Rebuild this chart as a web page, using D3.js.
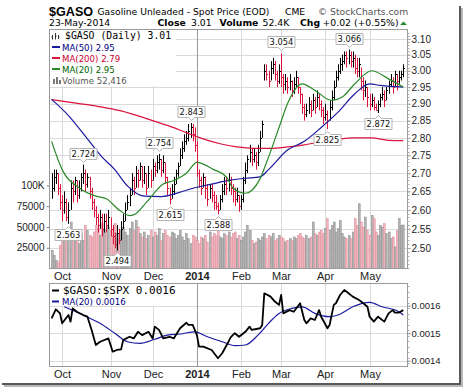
<!DOCTYPE html>
<html>
<head>
<meta charset="utf-8">
<script src="https://cdn.jsdelivr.net/npm/d3@7"></script>
<style>
  body { margin: 0; background: #fff; }
  svg { display: block; }
</style>
</head>
<body>
<div id="chart"></div>
<script>
// $GASO daily bars, 24-Sep-2013 .. 23-May-2014 (168 sessions)
const closes = [
  2.66, 2.69, 2.70, 2.66, 2.62, 2.60, 2.62, 2.58, 2.60, 2.66,
  2.65, 2.68, 2.64, 2.66, 2.69, 2.70, 2.67, 2.69, 2.65, 2.62,
  2.60, 2.58, 2.56, 2.58, 2.55, 2.57, 2.56, 2.58, 2.55, 2.53,
  2.51, 2.54, 2.52, 2.55, 2.57, 2.60, 2.62, 2.64, 2.68, 2.66,
  2.70, 2.68, 2.72, 2.68, 2.70, 2.66, 2.70, 2.68, 2.72, 2.71,
  2.73, 2.74, 2.71, 2.73, 2.69, 2.66, 2.63, 2.65, 2.67, 2.70,
  2.72, 2.75, 2.77, 2.79, 2.80, 2.82, 2.83, 2.81, 2.78, 2.70,
  2.68, 2.66, 2.69, 2.66, 2.63, 2.66, 2.64, 2.62, 2.61, 2.60,
  2.63, 2.65, 2.67, 2.66, 2.68, 2.66, 2.65, 2.63, 2.64, 2.61,
  2.63, 2.68, 2.71, 2.74, 2.76, 2.74, 2.75, 2.73, 2.76, 2.80,
  2.84, 3.00, 2.99, 2.97, 3.01, 3.02, 2.99, 2.97, 3.00, 2.98,
  2.96, 2.97, 2.95, 2.97, 2.94, 2.96, 2.98, 2.95, 2.93, 2.89,
  2.87, 2.88, 2.90, 2.88, 2.91, 2.89, 2.92, 2.90, 2.88, 2.86,
  2.87, 2.85, 2.89, 2.92, 2.95, 2.98, 3.00, 3.02, 3.03, 3.05,
  3.04, 3.05, 3.03, 3.04, 3.01, 3.00, 3.02, 2.97, 2.94, 2.95,
  2.92, 2.90, 2.91, 2.89, 2.88, 2.90, 2.92, 2.93, 2.91, 2.94,
  2.96, 2.97, 2.95, 2.99, 2.97, 2.98, 2.99, 3.01
];
const highs = [
  2.70, 2.71, 2.71, 2.70, 2.67, 2.64, 2.65, 2.63, 2.62, 2.68,
  2.68, 2.69, 2.68, 2.68, 2.70, 2.724, 2.71, 2.70, 2.69, 2.66,
  2.63, 2.61, 2.59, 2.60, 2.59, 2.59, 2.59, 2.60, 2.58, 2.56,
  2.54, 2.56, 2.55, 2.57, 2.59, 2.62, 2.64, 2.66, 2.70, 2.69,
  2.72, 2.71, 2.73, 2.72, 2.72, 2.70, 2.72, 2.71, 2.74, 2.73,
  2.75, 2.754, 2.74, 2.75, 2.73, 2.69, 2.66, 2.67, 2.69, 2.71,
  2.73, 2.77, 2.79, 2.81, 2.82, 2.84, 2.843, 2.84, 2.83, 2.79,
  2.71, 2.69, 2.70, 2.69, 2.67, 2.67, 2.67, 2.65, 2.64, 2.62,
  2.64, 2.67, 2.69, 2.69, 2.70, 2.69, 2.67, 2.66, 2.66, 2.64,
  2.64, 2.69, 2.73, 2.75, 2.78, 2.77, 2.77, 2.76, 2.78, 2.82,
  2.85, 3.02, 3.02, 3.00, 3.03, 3.04, 3.03, 3.00, 3.02, 3.054,
  2.99, 2.99, 2.98, 2.99, 2.97, 2.98, 3.00, 2.98, 2.95, 2.93,
  2.90, 2.90, 2.92, 2.91, 2.93, 2.92, 2.94, 2.93, 2.91, 2.89,
  2.90, 2.88, 2.91, 2.94, 2.97, 3.00, 3.02, 3.04, 3.05, 3.06,
  3.06, 3.066, 3.06, 3.06, 3.05, 3.04, 3.04, 3.01, 2.98, 2.97,
  2.95, 2.93, 2.93, 2.92, 2.90, 2.91, 2.93, 2.95, 2.94, 2.95,
  2.97, 2.99, 2.98, 3.00, 2.99, 3.00, 3.00, 3.02
];
const lows = [
  2.63, 2.65, 2.67, 2.64, 2.60, 2.57, 2.59, 2.57, 2.563, 2.60,
  2.62, 2.64, 2.62, 2.63, 2.65, 2.67, 2.65, 2.66, 2.63, 2.60,
  2.58, 2.56, 2.54, 2.55, 2.53, 2.54, 2.54, 2.55, 2.53, 2.51,
  2.50, 2.494, 2.51, 2.52, 2.55, 2.57, 2.60, 2.61, 2.64, 2.64,
  2.66, 2.66, 2.68, 2.66, 2.67, 2.64, 2.66, 2.66, 2.68, 2.69,
  2.70, 2.71, 2.69, 2.70, 2.67, 2.64, 2.615, 2.63, 2.64, 2.67,
  2.69, 2.72, 2.74, 2.76, 2.78, 2.79, 2.80, 2.79, 2.76, 2.69,
  2.66, 2.64, 2.66, 2.63, 2.61, 2.63, 2.62, 2.60, 2.60, 2.588,
  2.60, 2.62, 2.64, 2.64, 2.65, 2.64, 2.62, 2.61, 2.62, 2.595,
  2.60, 2.62, 2.67, 2.70, 2.73, 2.72, 2.73, 2.71, 2.72, 2.76,
  2.80, 2.97, 2.97, 2.95, 2.97, 2.99, 2.97, 2.95, 2.96, 2.95,
  2.93, 2.94, 2.93, 2.94, 2.92, 2.93, 2.95, 2.93, 2.90, 2.87,
  2.85, 2.86, 2.87, 2.86, 2.88, 2.87, 2.89, 2.88, 2.86, 2.84,
  2.85, 2.825, 2.85, 2.88, 2.91, 2.95, 2.97, 2.99, 3.00, 3.02,
  3.01, 3.02, 3.01, 3.01, 2.99, 2.98, 2.98, 2.94, 2.91, 2.92,
  2.89, 2.88, 2.89, 2.88, 2.88, 2.872, 2.89, 2.91, 2.89, 2.91,
  2.93, 2.95, 2.93, 2.95, 2.94, 2.96, 2.97, 2.98
];
// volume in thousands
const volK = [
  22, 16, 10, 8, 28, 40, 46,
  44, 40, 56, 38, 46, 36, 30, 42,
  34, 52, 46, 40, 38, 44, 52,
  48, 40, 54, 46, 42, 50,
  46, 40, 54, 42, 36, 46,
  50, 44, 40, 48, 56, 46, 58,
  50, 42, 38, 44, 36, 40, 46,
  38, 44, 40, 48, 34, 42, 46,
  40, 38, 44, 42, 36, 40, 46,
  38, 34, 42, 36, 30, 40, 38,
  34, 30, 38, 36, 40, 32, 44,
  38, 42, 40, 46, 38, 36, 42,
  40, 44, 38, 42, 44, 36, 40,
  34, 38, 44, 52, 46, 34, 30,
  32, 36, 34, 38, 42, 36, 40,
  38, 42, 34, 36, 40, 38, 36,
  32, 34, 36, 34, 38, 36, 40,
  42, 38, 36, 40, 36, 38, 56,
  42, 40, 44, 46, 42, 48, 60,
  46, 52, 56, 44, 48, 58, 42,
  38, 36, 40, 36, 44, 60, 52,
  78, 56, 50, 62, 46, 40, 64,
  60, 44, 40, 52, 50, 54, 42,
  44, 36, 38, 26, 46, 60, 52, 52.4
];

// moving averages, read at sample sessions
const ma200Idx = [0, 8, 16, 24, 32, 40, 48, 56, 64, 72, 80, 88, 96, 104, 112, 120, 128, 136, 144, 152, 160, 167];
const ma200Val = [2.912, 2.905, 2.898, 2.890, 2.880, 2.866, 2.850, 2.834, 2.815, 2.797, 2.783, 2.774, 2.770, 2.770, 2.774, 2.780, 2.788, 2.796, 2.800, 2.800, 2.793, 2.792];
const ma50Idx = [0, 8, 16, 24, 30, 36, 44, 52, 60, 68, 76, 84, 92, 99, 103, 112, 120, 128, 136, 144, 151, 156, 167];
const ma50Val = [2.913, 2.865, 2.805, 2.745, 2.71, 2.665, 2.637, 2.636, 2.646, 2.66, 2.67, 2.68, 2.686, 2.69, 2.71, 2.765, 2.79, 2.83, 2.875, 2.93, 2.96, 2.955, 2.95];
const ma20Idx = [0, 5, 13, 21, 26, 32, 37, 40, 45, 53, 58, 64, 69, 77, 83, 86, 92, 99, 103, 108, 112, 119, 125, 133, 138, 144, 152, 160, 167];
const ma20Val = [2.79, 2.71, 2.66, 2.637, 2.63, 2.60, 2.585, 2.59, 2.62, 2.67, 2.68, 2.70, 2.73, 2.71, 2.69, 2.66, 2.645, 2.685, 2.745, 2.83, 2.90, 2.96, 2.94, 2.91, 2.92, 2.96, 3.00, 2.975, 2.95];

// $GASO:$SPX ratio and its MA(20)
const ratioIdx = [0, 2, 4, 5, 8, 9, 10, 12, 15, 17, 19, 21, 23, 27, 29, 31, 33, 34, 37, 39, 41, 43, 46, 48, 49, 51, 53, 56, 58, 61,
  64, 65, 67, 69, 70, 72, 76, 79, 81, 84, 85, 87, 89, 92, 94, 95, 99, 100, 101, 104, 106, 108, 109, 110, 113, 115, 118, 120, 121, 123,
  125, 127, 128, 131, 132, 134, 135, 137, 139, 141, 143, 146, 148, 150, 151, 153, 155, 158, 160, 162, 163, 165, 167];
const ratioVal = [0.001554, 0.001587, 0.001572, 0.001536, 0.001566, 0.001542, 0.00159, 0.001578, 0.001566, 0.00156,
  0.001512, 0.001457, 0.001469, 0.001481, 0.001433, 0.001439, 0.001441, 0.001475, 0.001487, 0.001481,
  0.001505, 0.001493, 0.001505, 0.001481, 0.001524, 0.001512, 0.001481, 0.001487, 0.001481, 0.001518,
  0.001538, 0.00153, 0.00153, 0.001493, 0.001451, 0.001451, 0.001439, 0.001409, 0.001427, 0.001469,
  0.001485, 0.0015, 0.001487, 0.001505, 0.001524, 0.001512, 0.001518, 0.00153, 0.001645, 0.001633,
  0.001615, 0.001603, 0.001639, 0.001572, 0.001584, 0.001578, 0.001609, 0.001548, 0.001536, 0.001554,
  0.001548, 0.001584, 0.00156, 0.001518, 0.00153, 0.001603, 0.001609, 0.001639, 0.001657, 0.001645,
  0.001633, 0.001621, 0.001609, 0.001596, 0.00156, 0.001542, 0.00156, 0.001542, 0.001572, 0.001584,
  0.001575, 0.001575, 0.001584];
const rmaIdx = [6, 15, 23, 30, 36, 42, 49, 55, 61, 68, 74, 81, 87, 92, 98, 103, 108, 114, 119, 125, 132, 136, 143, 151, 157, 165, 167];
const rmaVal = [0.001596, 0.001566, 0.001536, 0.0015, 0.001469, 0.001463, 0.001478, 0.001493, 0.001497, 0.001505, 0.001487, 0.001469, 0.001455, 0.001457,
  0.001493, 0.001536, 0.001572, 0.00159, 0.001596, 0.001572, 0.00156, 0.001566, 0.001596, 0.001612, 0.001596, 0.001578, 0.001566];

// labelled highs / lows
const tagIdx = [8, 15, 31, 51, 56, 66, 79, 109, 131, 141, 155];
const tagText = ["2.563", "2.724", "2.494", "2.754", "2.615", "2.843", "2.588", "3.054", "2.825", "3.066", "2.872"];
const tagHigh = [false, true, false, true, false, true, false, true, false, true, false];

// axes
const monthIdx = [5, 28, 48, 69, 90, 109, 130, 151];
const monthLab = ["Oct", "Nov", "Dec", "2014", "Feb", "Mar", "Apr", "May"];
const priceTicks = [2.50, 2.55, 2.60, 2.65, 2.70, 2.75, 2.80, 2.85, 2.90, 2.95, 3.00, 3.05, 3.10];
const volTicks = [25, 50, 75, 100];
const ratioTicks = [0.0014, 0.0015, 0.0016];

const UP = "#000", DOWN = "#dc143c";
const NAVY = "#1a1aa0", RED = "#dc143c", GREEN = "#2a8a2a";
const AXF = "'Liberation Sans', Arial, sans-serif";
const MONO = "'DejaVu Sans Mono', monospace";

const pL = 49.5, pR = 407.5, pTop = 29.5, pBot = 268.5;
const lTop = 283.5, lBot = 366.5;

const svg = d3.select("#chart").append("svg")
  .attr("width", 464).attr("height", 387)
  .style("font-family", "'DejaVu Sans', Verdana, sans-serif");

svg.append("rect").attr("width", 464).attr("height", 387).attr("fill", "#fff");

if (closes.length !== 168 || highs.length !== 168 || lows.length !== 168 || volK.length !== 168 ||
    ratioIdx.length !== ratioVal.length || rmaIdx.length !== rmaVal.length) {
  svg.append("text").attr("x", 100).attr("y", 200).attr("fill", "red")
    .text(`len ${closes.length} ${highs.length} ${lows.length} ${volK.length} ${ratioIdx.length}/${ratioVal.length}`);
}

// frame shadow
svg.append("rect").attr("x", 459).attr("y", 6).attr("width", 2).attr("height", 379).attr("fill", "#5a5a5a");
svg.append("rect").attr("x", 461).attr("y", 8).attr("width", 2).attr("height", 378).attr("fill", "#b8b8b8");
svg.append("rect").attr("x", 2).attr("y", 383).attr("width", 459).attr("height", 2).attr("fill", "#5a5a5a");
svg.append("rect").attr("x", 4).attr("y", 385).attr("width", 459).attr("height", 2).attr("fill", "#b8b8b8");

const x = d3.scaleLinear().domain([-1, 169]).range([pL, pR]);
const y = d3.scaleLog().domain([2.448, 3.130]).range([pBot, pTop]);
const yv = d3.scaleLinear().domain([0, 100]).range([pBot, 185.5]);
const yr = d3.scaleLinear().domain([0.0014, 0.0016]).range([360.7, 305.7]);
const px = i => Math.round(x(i)) + 0.5;
const isUp = i => i === 0 || closes[i] >= closes[i - 1];

// ---- header
const head = svg.append("g");
head.append("text").attr("x", 49).attr("y", 15.5)
  .attr("font-family", AXF).attr("font-weight", "bold").attr("font-size", 12.6).text("$GASO");
head.append("text").attr("x", 97.5).attr("y", 14.5).attr("font-size", 9.2)
  .text("Gasoline Unleaded - Spot Price (EOD)");
head.append("text").attr("x", 285).attr("y", 14.5).attr("font-size", 9.2).text("CME");
head.append("text").attr("x", 318).attr("y", 14.5).attr("font-size", 9.2).attr("fill", "#555")
  .text("\u00a9 StockCharts.com");
const l2 = head.append("text").attr("y", 26).attr("font-size", 9.3);
l2.append("tspan").attr("x", 49).text("23-May-2014");
l2.append("tspan").attr("x", 157.5).attr("font-weight", "bold").text("Close");
l2.append("tspan").attr("x", 191).text("3.01");
l2.append("tspan").attr("x", 219.5).attr("font-weight", "bold").text("Volume");
l2.append("tspan").attr("x", 262.5).text("52.4K");
l2.append("tspan").attr("x", 300).attr("font-weight", "bold").text("Chg");
l2.append("tspan").attr("x", 322.5).text("+0.02 (+0.55%)");
head.append("path").attr("d", "M400,25 L403.5,21.5 L407,25 Z").attr("fill", "#2a8a2a");

// ---- main panel
const main = svg.append("g");
svg.append("clipPath").attr("id", "clipMain")
  .append("rect").attr("x", pL).attr("y", pTop).attr("width", pR - pL).attr("height", pBot - pTop);

main.selectAll("line.hg").data(priceTicks).join("line").attr("class", "hg")
  .attr("x1", pL).attr("x2", pR)
  .attr("y1", d => Math.round(y(d)) + 0.5).attr("y2", d => Math.round(y(d)) + 0.5)
  .attr("stroke", "#dadada");
main.selectAll("line.vg").data(monthIdx).join("line").attr("class", "vg")
  .attr("x1", d => px(d)).attr("x2", d => px(d))
  .attr("y1", pTop).attr("y2", pBot)
  .attr("stroke", (d, i) => monthLab[i] === "2014" ? "#9a9a9a" : "#dadada");

// volume
main.append("g").selectAll("rect").data(volK).join("rect")
  .attr("x", (d, i) => px(i) - 1.2).attr("width", 1.9)
  .attr("y", d => yv(d)).attr("height", d => pBot - yv(d))
  .attr("fill", (d, i) => isUp(i) ? "#b4b4b4" : "#f2b6be")
  .attr("stroke", (d, i) => isUp(i) ? "#8a8a8a" : "#d98a98")
  .attr("stroke-width", 0.5);

// price bars
const bars = main.append("g").attr("clip-path", "url(#clipMain)");
bars.selectAll("line.hl").data(closes).join("line").attr("class", "hl")
  .attr("x1", (d, i) => px(i)).attr("x2", (d, i) => px(i))
  .attr("y1", (d, i) => y(highs[i])).attr("y2", (d, i) => y(lows[i]))
  .attr("stroke", (d, i) => isUp(i) ? UP : DOWN);
bars.selectAll("line.cl").data(closes).join("line").attr("class", "cl")
  .attr("x1", (d, i) => px(i)).attr("x2", (d, i) => px(i) + 1.5)
  .attr("y1", d => Math.round(y(d)) + 0.5).attr("y2", d => Math.round(y(d)) + 0.5)
  .attr("stroke", (d, i) => isUp(i) ? UP : DOWN);

// moving averages
const maLine = d3.line().x(d => x(d[0])).y(d => y(d[1])).curve(d3.curveMonotoneX);
const maSets = [[ma200Idx, ma200Val, RED], [ma50Idx, ma50Val, NAVY], [ma20Idx, ma20Val, GREEN]];
maSets.forEach(([idx, val, col]) => {
  bars.append("path").datum(idx.map((d, k) => [d, val[k]]))
    .attr("d", maLine).attr("fill", "none").attr("stroke", col).attr("stroke-width", 1.2);
});

// high / low tags
const tags = main.append("g");
tagIdx.forEach((ti, k) => {
  const cx = px(ti), w = 27, h = 11;
  const v = tagHigh[k] ? highs[ti] : lows[ti];
  const left = cx - w / 2, right = cx + w / 2;
  let d, ty;
  if (tagHigh[k]) {
    const bot = Math.round(y(v)) - 5.5, top = bot - h;
    d = `M${left},${top}H${right}V${bot}H${cx + 3}L${cx},${bot + 3}L${cx - 3},${bot}H${left}Z`;
    ty = bot - 2.5;
  } else {
    const top = Math.round(y(v)) + 5.5, bot = top + h;
    d = `M${left},${top}H${cx - 3}L${cx},${top - 3}L${cx + 3},${top}H${right}V${bot}H${left}Z`;
    ty = bot - 2.5;
  }
  tags.append("path").attr("d", d).attr("fill", "#fff").attr("stroke", "#b4b4b4");
  tags.append("text").attr("x", cx).attr("y", ty).attr("text-anchor", "middle")
    .attr("font-size", 8.3).attr("fill", "#111").text(tagText[k]);
});

// legend
main.append("rect").attr("x", pL + 0.5).attr("y", pTop + 0.5).attr("width", 126).attr("height", 56).attr("fill", "#fff");
const leg = main.append("g");
leg.append("path").attr("d", "M52.5,35V39.5M55.5,33V39.5M58.5,35V39M51.5,37H52.5M55.5,36H56.5M58.5,37H59.5")
  .attr("stroke", "#333").attr("fill", "none");
leg.append("text").attr("x", 65).attr("y", 39).attr("font-family", MONO).attr("font-size", 9.8).text("$GASO (Daily) 3.01");
const legRows = [["MA(50) 2.95", NAVY, "#000080", 50.5], ["MA(200) 2.79", RED, "#cc0033", 61.5], ["MA(20) 2.95", GREEN, "#006400", 72.5]];
legRows.forEach(([t, lc, tc, by]) => {
  leg.append("rect").attr("x", 52).attr("y", by - 4.5).attr("width", 8).attr("height", 2).attr("fill", lc);
  leg.append("text").attr("x", 62).attr("y", by).attr("font-size", 8.6).attr("fill", tc).text(t);
});
leg.append("path").attr("d", "M53,84V79H55V84M56,84V77H58V84M59,84V80H61V84").attr("fill", "#777");
leg.append("text").attr("x", 62).attr("y", 83.5).attr("font-size", 8.6).attr("fill", "#555").text("Volume 52,416");

main.append("rect").attr("x", pL).attr("y", pTop).attr("width", pR - pL).attr("height", pBot - pTop)
  .attr("fill", "none").attr("stroke", "#9a9a9a");

// right price axis
const axR = svg.append("g").attr("transform", `translate(${pR},0)`)
  .call(d3.axisRight(y).tickValues(priceTicks).tickSize(3).tickPadding(1).tickFormat(d3.format(".2f")));
axR.select(".domain").remove();
axR.attr("font-family", AXF).attr("font-size", 10);
axR.selectAll("text").attr("fill", "#222");
axR.selectAll("line").attr("stroke", "#888");
svg.append("g").selectAll("line").data(d3.range(2.45, 3.125, 0.01)).join("line")
  .attr("x1", pR).attr("x2", pR + 2)
  .attr("y1", d => Math.round(y(d)) + 0.5).attr("y2", d => Math.round(y(d)) + 0.5)
  .attr("stroke", "#b0b0b0");

// left volume axis
const axV = svg.append("g").attr("transform", `translate(${pL},0)`)
  .call(d3.axisLeft(yv).tickValues(volTicks).tickSize(3).tickPadding(2)
    .tickFormat(d => d === 100 ? "100K" : String(d * 1000)));
axV.select(".domain").remove();
axV.attr("font-family", AXF).attr("font-size", 10);
axV.selectAll("text").attr("fill", "#222");
axV.selectAll("line").attr("stroke", "#888");

// month labels
[279.5, 378].forEach(by => {
  svg.append("g").selectAll("text").data(monthIdx).join("text")
    .attr("x", d => px(d)).attr("y", by).attr("text-anchor", "middle")
    .attr("font-family", AXF).attr("font-size", 11)
    .attr("font-weight", (d, i) => monthLab[i] === "2014" ? "bold" : "normal")
    .attr("fill", "#222").text((d, i) => monthLab[i]);
});

// ---- lower panel
const low = svg.append("g");
svg.append("clipPath").attr("id", "clipLow")
  .append("rect").attr("x", pL).attr("y", lTop).attr("width", pR - pL).attr("height", lBot - lTop);
low.selectAll("line.hg").data(ratioTicks).join("line").attr("class", "hg")
  .attr("x1", pL).attr("x2", pR)
  .attr("y1", d => Math.round(yr(d)) + 0.5).attr("y2", d => Math.round(yr(d)) + 0.5)
  .attr("stroke", "#dadada");
low.selectAll("line.vg").data(monthIdx).join("line").attr("class", "vg")
  .attr("x1", d => px(d)).attr("x2", d => px(d))
  .attr("y1", lTop).attr("y2", lBot)
  .attr("stroke", (d, i) => monthLab[i] === "2014" ? "#9a9a9a" : "#dadada");

const rLine = d3.line().x(d => x(d[0])).y(d => yr(d[1]));
const lowLines = low.append("g").attr("clip-path", "url(#clipLow)");
lowLines.append("path").datum(rmaIdx.map((d, k) => [d, rmaVal[k]]))
  .attr("d", rLine.curve(d3.curveMonotoneX)).attr("fill", "none").attr("stroke", NAVY).attr("stroke-width", 1.2);
lowLines.append("path").datum(ratioIdx.map((d, k) => [d, ratioVal[k]]))
  .attr("d", d3.line().x(d => x(d[0])).y(d => yr(d[1]))).attr("fill", "none")
  .attr("stroke", "#000").attr("stroke-width", 1.8).attr("stroke-linejoin", "round");

low.append("rect").attr("x", pL + 0.5).attr("y", lTop + 0.5).attr("width", 130).attr("height", 22).attr("fill", "#fff");
low.append("rect").attr("x", 52).attr("y", 289.5).attr("width", 7).attr("height", 2).attr("fill", "#000");
low.append("text").attr("x", 63).attr("y", 294).attr("font-family", MONO).attr("font-size", 11).text("$GASO:$SPX 0.0016");
low.append("rect").attr("x", 52).attr("y", 300.5).attr("width", 7).attr("height", 2).attr("fill", NAVY);
low.append("text").attr("x", 62).attr("y", 305).attr("font-size", 8.6).attr("fill", "#000080").text("MA(20) 0.0016");

low.append("rect").attr("x", pL).attr("y", lTop).attr("width", pR - pL).attr("height", lBot - lTop)
  .attr("fill", "none").attr("stroke", "#9a9a9a");

const axL = svg.append("g").attr("transform", `translate(${pR},0)`)
  .call(d3.axisRight(yr).tickValues(ratioTicks).tickSize(3).tickPadding(1).tickFormat(d3.format(".4f")));
axL.select(".domain").remove();
axL.attr("font-family", AXF).attr("font-size", 9.5);
axL.selectAll("text").attr("fill", "#222");
axL.selectAll("line").attr("stroke", "#888");
svg.append("g").selectAll("line").data(d3.range(0.00139, 0.00168, 0.00002)).join("line")
  .attr("x1", pR).attr("x2", pR + 2)
  .attr("y1", d => Math.round(yr(d)) + 0.5).attr("y2", d => Math.round(yr(d)) + 0.5)
  .attr("stroke", "#b0b0b0");
</script>
</body>
</html>
